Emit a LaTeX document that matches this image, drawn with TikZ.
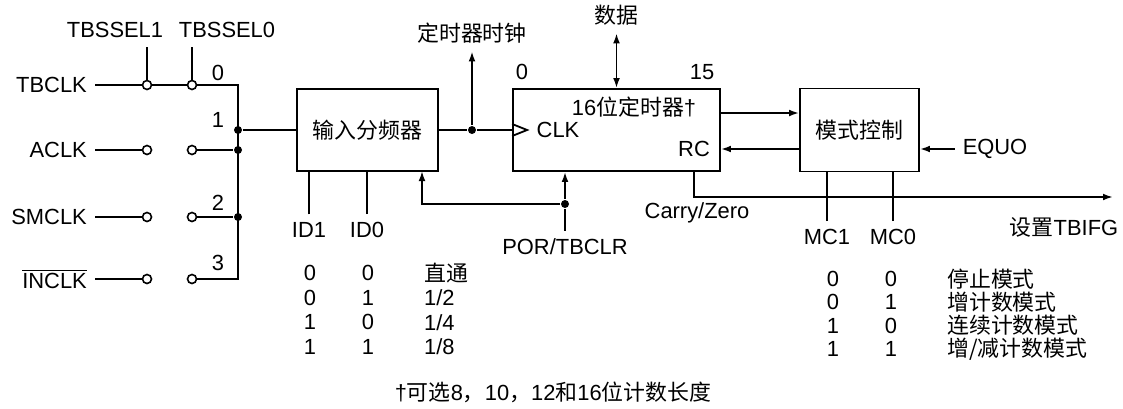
\documentclass[tikz,border=0pt,11pt]{standalone}
\usepackage{fontspec}
\setmainfont{Liberation Sans}
\newfontfamily\cjk{Noto Sans CJK SC}
\usetikzlibrary{arrows.meta}
\tikzset{
  contact/.style={circle,draw,fill=white,inner sep=0pt,minimum size=4.5pt,line width=0.8pt},
  junction/.style={circle,fill,inner sep=0pt,minimum size=4pt},
  block/.style={draw,inner sep=0pt,minimum height=41pt}
}
\newcommand{\codetable}[5]{
  \foreach \bitA/\bitB/\desc [count=\i] in {#5}{
    \pgfmathsetmacro{\rowY}{#3+(\i-1)*#4}
    \node (#1a\i) at (#2,\rowY) {\bitA};
    \node (#1b\i) at (#2+58,\rowY) {\bitB};
    \node[anchor=west] (#1c\i) at (#2+106,\rowY) {\desc};
  }
}
\begin{document}
\begin{tikzpicture}[x=0.5pt,y=-0.5pt,line width=0.9pt,>={Latex[length=5pt,width=3.4pt]}]
      \useasboundingbox (0,0) rectangle (1123,408);
      \node (sel1) at (115,30) {TBSSEL1};
      \node (sel0) at (227,30) {TBSSEL0};
      \foreach \src/\y/\posY [count=\i from 0] in {TBCLK/85/73,ACLK/150/120,SMCLK/217/203,{$\overline{\mbox{INCLK}}$}/279/263}{
        \node[anchor=east] (src\i) at (95,\y) {\src};
        \node[contact] (swa\i) at (147,\y) {};
        \node[contact] (swb\i) at (192,\y) {};
        \node (pos\i) at (218,\posY) {\i};
        \draw (src\i) -- (swa\i);
      }
      \coordinate (lev1) at (147,47);
      \coordinate (lev0) at (192,47);
      \draw (swa0) -- (lev1);
      \draw (swb0) -- (lev0);
      \draw (swa0) -- (swb0);
      \coordinate (bus0) at (238,85);
      \node[junction] (busout) at (238,130) {};
      \node[junction] (bus1) at (238,150) {};
      \node[junction] (bus2) at (238,217) {};
      \coordinate (bus3) at (238,279);
      \draw (swb0) -- (bus0) -- (bus3) -- (swb3);
      \draw (swb1) -- (bus1);
      \draw (swb2) -- (bus2);
      \node[block,minimum width=70.5pt] (div) at (367.5,130) {\cjk 输入分频器};
      \draw (busout) -- (div);
      \node[junction] (clkdot) at (472,130) {};
      \node (clkout) at (472,33) {\cjk 定时器时钟};
      \node[block,minimum width=103.5pt] (tmr) at (616.5,130) {};
      \node (tmrname) at (634,107) {16{\cjk 位定时器}†};
      \node (clk) at (558,130) {CLK};
      \node (rc) at (694,149) {RC};
      \node (bit0) at (522,72) {0};
      \node (bit15) at (702,72) {15};
      \draw (tmr.west) ++(0,-6) -- ++(15,6) -- ++(-15,6);
      \draw (div) -- (clkdot);
      \draw (clkdot) -- (tmr);
      \draw[->] (clkdot) -- (clkout);
      \node (data) at (616.5,15) {\cjk 数据};
      \draw[<->] (data) -- (tmr);
      \node[block,minimum width=59.5pt,minimum height=41.5pt] (mode) at (859.5,130) {\cjk 模式控制};
      \draw[->] ([yshift=8.5pt]tmr.east) -- ([yshift=8.5pt]mode.west);
      \draw[<-] ([yshift=-9.5pt]tmr.east) -- ([yshift=-9.5pt]mode.west);
      \node (equo) at (995,149) {EQUO};
      \draw[->] (equo) -- (mode.east |- equo);
      \node (por) at (565,247) {POR/TBCLR};
      \node[junction] (pordot) at (565,204) {};
      \coordinate (divclr) at (422,171);
      \draw (por) -- (pordot);
      \draw[->] (pordot) -- (pordot |- tmr.south);
      \draw[->] (pordot) -| (divclr);
      \node (id1) at (309,230) {ID1};
      \node (id0) at (367,230) {ID0};
      \draw (id1) -- (id1 |- div.south);
      \draw (id0) -- (id0 |- div.south);
      \node (mc1) at (827,237) {MC1};
      \node (mc0) at (893,237) {MC0};
      \draw (mc1) -- (mc1 |- mode.south);
      \draw (mc0) -- (mc0 |- mode.south);
      \node (carry) at (697,213) {Carry/Zero};
      \node (flag) at (1064,227) {{\cjk 设置}TBIFG};
      \coordinate (flagend) at (1113,197);
      \draw[->] (rc |- tmr.south) |- (flagend);
      \codetable{idt}{310}{273}{24.7}{0/0/{\cjk 直通},0/1/{1/2},1/0/{1/4},1/1/{1/8}}
      \codetable{mct}{833}{279}{23.3}{0/0/{\cjk 停止模式},0/1/{\cjk 增计数模式},1/0/{\cjk 连续计数模式},1/1/{\cjk 增/减计数模式}}
      \node (note) at (553,392) {†{\cjk 可选}8{\cjk ，}10{\cjk ，}12{\cjk 和}16{\cjk 位计数长度}};
\end{tikzpicture}
\end{document}
